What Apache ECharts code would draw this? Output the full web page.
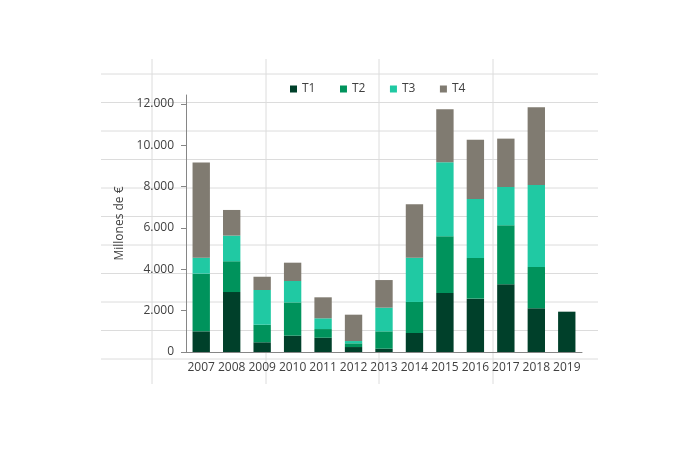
<!DOCTYPE html>
<html>
<head>
<meta charset="utf-8">
<script src="https://cdn.jsdelivr.net/npm/echarts@6/dist/echarts.min.js"></script>
<style>html,body{margin:0;padding:0;background:#fff}#chart{width:690px;height:457px}</style>
</head>
<body>
<div id="chart"></div>
<script>
var years = ['2007','2008','2009','2010','2011','2012','2013','2014','2015','2016','2017','2018','2019'];
var t1 = [1000, 2900, 470, 790, 690, 240, 160, 920, 2855, 2580, 3275, 2115, 1950];
var t2 = [2790, 1490, 850, 1610, 420, 180, 840, 1500, 2745, 1970, 2855, 1995, null];
var t3 = [770, 1240, 1680, 1035, 520, 110, 1145, 2140, 3580, 2850, 1850, 3970, null];
var t4 = [4600, 1240, 640, 885, 1015, 1275, 1335, 2585, 2560, 2860, 2340, 3760, null];
var yTicks = [0, 2000, 4000, 6000, 8000, 10000, 12000];

var colors = ['#00402a', '#00935c', '#20c9a3', '#807b71'];
var font = 'Open Sans';

// spreadsheet background grid (decoration)
var bg = [];
var hY = [74, 102.5, 131, 159.5, 188, 216.5, 245, 273.5, 302, 330.5, 359];
hY.forEach(function (y) {
  bg.push({type: 'line', shape: {x1: 101, y1: y, x2: 598, y2: y}, style: {stroke: '#dcdcdc', lineWidth: 1}, z: -10});
});
[152, 266, 379, 493].forEach(function (x) {
  bg.push({type: 'line', shape: {x1: x, y1: 59, x2: x, y2: 384}, style: {stroke: '#dcdcdc', lineWidth: 1}, z: -10});
});

function fmt(v) {
  return String(v).replace(/\B(?=(\d{3})+(?!\d))/g, '.');
}

var chart = echarts.init(document.getElementById('chart'), null, {renderer: 'canvas'});
var names = ['T1', 'T2', 'T3', 'T4'];
var data = [t1, t2, t3, t4];
chart.setOption({
  animation: false,
  graphic: bg,
  legend: {
    top: 78,
    left: 285,
    itemWidth: 7,
    itemHeight: 7,
    itemGap: 24.5,
    icon: 'rect',
    textStyle: {fontFamily: font, fontSize: 12, color: '#404040'},
    data: names
  },
  grid: {left: 186, right: 108, top: 95, bottom: 105},
  xAxis: {
    type: 'category',
    data: years,
    axisLine: {lineStyle: {color: '#868686'}},
    axisTick: {show: false},
    axisLabel: {fontFamily: font, fontSize: 12, color: '#404040', margin: 10, interval: 0}
  },
  yAxis: {
    type: 'value',
    min: 0,
    max: 12430,
    interval: 2000,
    name: 'Millones de €',
    nameLocation: 'middle',
    nameGap: 56,
    nameTextStyle: {fontFamily: font, fontSize: 12, color: '#404040'},
    axisLine: {show: true, lineStyle: {color: '#868686'}},
    axisTick: {show: true, length: 5, lineStyle: {color: '#868686'}, customValues: yTicks},
    axisLabel: {fontFamily: font, fontSize: 12, color: '#404040', margin: 12, customValues: yTicks, formatter: function (v) { return fmt(v); }},
    splitLine: {show: false}
  },
  series: names.map(function (n, i) {
    return {
      name: n,
      type: 'bar',
      stack: 'total',
      barWidth: '57%',
      itemStyle: {color: colors[i]},
      data: data[i]
    };
  })
});
</script>
</body>
</html>
